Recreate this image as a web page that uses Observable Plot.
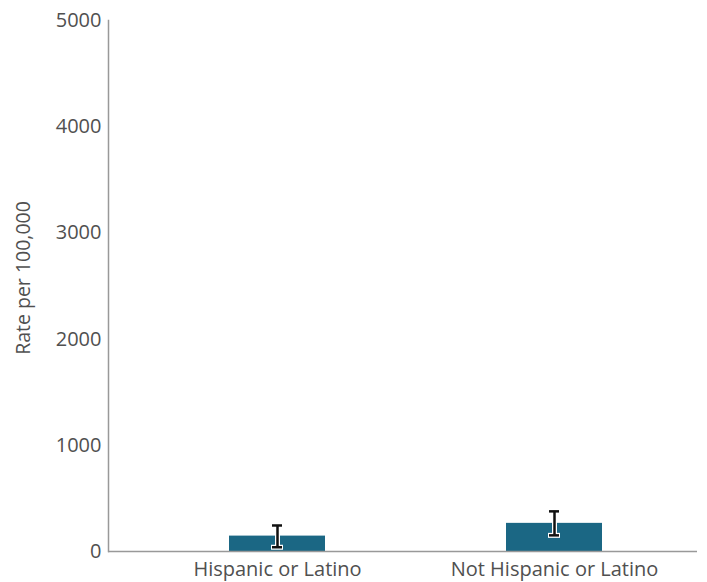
<!DOCTYPE html>
<html>
<head>
<meta charset="utf-8">
<script src="https://cdn.jsdelivr.net/npm/d3@7"></script>
<script src="https://cdn.jsdelivr.net/npm/@observablehq/plot@0.6"></script>
<style>
  html, body { margin: 0; padding: 0; background: #fff; }
  #chart svg { display: block; }
</style>
</head>
<body>
<div id="chart"></div>
<script>
const categories = ["Hispanic or Latino", "Not Hispanic or Latino"];
const rates = [145, 265];
const lower = [40, 152];
const upper = [245, 378];
const yTicks = [0, 1000, 2000, 3000, 4000, 5000];

const data = categories.map((c, i) => ({category: c, rate: rates[i], lo: lower[i], hi: upper[i]}));

const capInset = 43;
const chart = Plot.plot({
  width: 707,
  height: 582,
  marginTop: 20,
  marginBottom: 31,
  marginLeft: 108,
  marginRight: 10,
  style: {fontFamily: "'Open Sans', sans-serif", fontSize: "20px", color: "#505050", background: "#fff"},
  x: {domain: categories, paddingInner: 0.655, paddingOuter: 0.3, insetLeft: 37, insetRight: 12, label: null},
  y: {domain: [0, 5000], ticks: yTicks, label: null},
  marks: [
    Plot.barY(data, {x: "category", y: "rate", fill: "#1b6784"}),
    Plot.ruleY([0], {stroke: "#999", strokeWidth: 1.5}),
    Plot.frame({anchor: "left", stroke: "#999", strokeWidth: 1.5}),
    Plot.axisY({ticks: yTicks, tickSize: 0, tickPadding: 7, tickFormat: d => String(d), fontSize: 20, label: null}),
    Plot.axisX({tickSize: 0, tickPadding: 10, fontSize: 20, label: null}),
    Plot.text(["Rate per 100,000"], {frameAnchor: "left", textAnchor: "middle", dx: -85, dy: -8, rotate: -90, fontSize: 19.5, fill: "#505050"}),
    // error bar halo
    Plot.ruleX(data, {x: "category", y1: "lo", y2: "hi", stroke: "white", strokeWidth: 5}),
    Plot.tickY(data, {x: "category", y: "lo", stroke: "white", strokeWidth: 5, insetLeft: capInset - 1, insetRight: capInset - 1}),
    Plot.tickY(data, {x: "category", y: "hi", stroke: "white", strokeWidth: 5, insetLeft: capInset - 1, insetRight: capInset - 1}),
    // error bar
    Plot.ruleX(data, {x: "category", y1: "lo", y2: "hi", stroke: "#111", strokeWidth: 2.5}),
    Plot.tickY(data, {x: "category", y: "lo", stroke: "#111", strokeWidth: 2.5, insetLeft: capInset, insetRight: capInset}),
    Plot.tickY(data, {x: "category", y: "hi", stroke: "#111", strokeWidth: 2.5, insetLeft: capInset, insetRight: capInset})
  ]
});
document.getElementById("chart").appendChild(chart);
</script>
</body>
</html>
